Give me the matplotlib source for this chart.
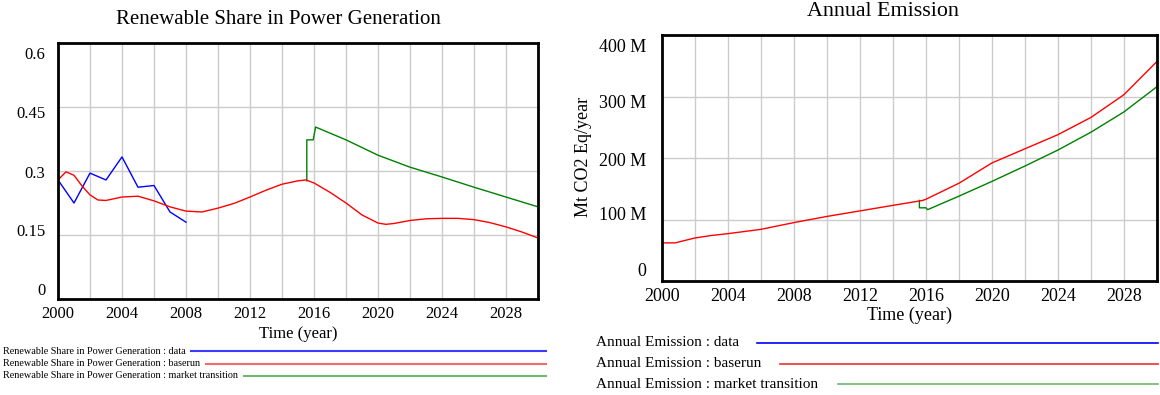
import matplotlib
matplotlib.use("Agg")
import matplotlib.pyplot as plt
from matplotlib.lines import Line2D
from matplotlib.ticker import FuncFormatter
from matplotlib.transforms import ScaledTranslation

plt.rcParams['font.family'] = ['Liberation Serif', 'DejaVu Serif']

# ---------------- data: Renewable Share in Power Generation ----------------
share_data_years = [2000, 2001, 2002, 2003, 2004, 2005, 2006, 2007, 2008]
share_data = [0.279, 0.225, 0.295, 0.279, 0.333, 0.262, 0.266, 0.204, 0.180]

share_base_years = [2000, 2000.5, 2001, 2001.5, 2002, 2002.5, 2003, 2004, 2005, 2006,
                    2007, 2008, 2009, 2010, 2011, 2012, 2013, 2014, 2015, 2015.5,
                    2016, 2017, 2018, 2019, 2020, 2020.5, 2021, 2022, 2023, 2024,
                    2025, 2026, 2027, 2028, 2029, 2030]
share_base = [0.279, 0.298, 0.290, 0.265, 0.244, 0.232, 0.231, 0.239, 0.241, 0.230,
              0.216, 0.206, 0.204, 0.213, 0.224, 0.239, 0.255, 0.269, 0.277, 0.279,
              0.272, 0.250, 0.225, 0.197, 0.178, 0.175, 0.177, 0.184, 0.188, 0.189,
              0.189, 0.186, 0.179, 0.169, 0.157, 0.143]

share_market_years = [2015.55, 2015.55, 2015.95, 2016.1, 2018, 2020, 2022, 2024, 2026, 2028, 2030]
share_market = [0.277, 0.373, 0.373, 0.403, 0.373, 0.337, 0.309, 0.286, 0.262, 0.239, 0.216]

# ---------------- data: Annual Emission (Mt CO2 Eq/year, in millions) ----------------
emis_base_years = [2000, 2000.8, 2002, 2003, 2004, 2006, 2008, 2010, 2012, 2014,
                   2015.8, 2016, 2018, 2020, 2022, 2024, 2026, 2028, 2030]
emis_base = [62, 62, 70, 74, 77, 84, 95, 105, 114, 123,
             131, 133, 159, 192, 215, 238, 266, 303, 357]

emis_market_years = [2015.6, 2015.6, 2016.0, 2016.1, 2018, 2020, 2022, 2024, 2026, 2028, 2030]
emis_market = [131, 119, 119, 116, 138, 162, 187, 213, 242, 275, 316]

share_yticks = [0, 0.15, 0.3, 0.45, 0.6]
share_ytick_labels = ["0", "0.15", "0.3", "0.45", "0.6"]
emis_yticks = [0, 100, 200, 300, 400]
xticks_major = [2000, 2004, 2008, 2012, 2016, 2020, 2024, 2028]

W, H = 1160, 395
fig = plt.figure(figsize=(W / 100, H / 100), dpi=100)


def px_axes(x0, y0, x1, y1):
    return fig.add_axes([x0 / W, 1 - y1 / H, (x1 - x0) / W, (y1 - y0) / H])


def style(ax, label_offsets, ypad, fs):
    ax.set_xlim(2000, 2030)
    ax.set_xticks(range(2000, 2031, 2), minor=True)
    ax.set_xticks(xticks_major)
    ax.grid(True, which='both', axis='x', color='#cccccc', linewidth=1.0)
    ax.grid(True, which='major', axis='y', color='#cccccc', linewidth=1.0)
    ax.set_axisbelow(True)
    ax.tick_params(which='both', length=0, labelsize=fs)
    ax.tick_params(axis='x', pad=5)
    ax.tick_params(axis='y', pad=ypad)
    for sp in ax.spines.values():
        sp.set_linewidth(2.0)
        sp.set_color('black')
    for tick, dy in zip(ax.yaxis.get_major_ticks(), label_offsets):
        tr = tick.label1.get_transform()
        tick.label1.set_transform(tr + ScaledTranslation(0, -dy / 100, fig.dpi_scale_trans))


# ---------------- left chart ----------------
ax1 = px_axes(58, 43, 538, 299)
ax1.plot(share_data_years, share_data, color='#0000ff', lw=1.0)
ax1.plot(share_market_years, share_market, color='#008000', lw=1.0)
ax1.plot(share_base_years, share_base, color='#ff0000', lw=1.0)
ax1.set_ylim(0, 0.6)
ax1.set_yticks(share_yticks)
ax1.set_yticklabels(share_ytick_labels)
style(ax1, [-10, -5, 1, 5, 10], 9, 12)
fig.text(278 / W, 1 - 20 / H, "Renewable Share in Power Generation", fontsize=15,
         ha='center', va='center')
ax1.set_xlabel("Time (year)", fontsize=12, labelpad=1)
ax1.xaxis.set_label_coords(0.5, -0.105)

# ---------------- right chart ----------------
ax2 = px_axes(662, 35, 1157, 281)
ax2.plot(emis_market_years, emis_market, color='#008000', lw=1.0)
ax2.plot(emis_base_years, emis_base, color='#ff0000', lw=1.0)
ax2.set_ylim(0, 400)
ax2.set_yticks(emis_yticks)
ax2.yaxis.set_major_formatter(FuncFormatter(lambda v, p: "0" if v == 0 else f"{int(v)} M"))
style(ax2, [-12, -6, 1, 5, 11], 11, 13)
fig.text(883 / W, 1 - 12 / H, "Annual Emission", fontsize=15.8, ha='center', va='center')
ax2.set_xlabel("Time (year)", fontsize=13)
ax2.xaxis.set_label_coords(0.5, -0.105)
fig.text(584 / W, 1 - 157 / H, "Mt CO2 Eq/year", rotation=90, fontsize=13,
         ha='center', va='center')

# ---------------- legends ----------------
left_legend = [("Renewable Share in Power Generation : data", '#3b3bff', 191),
               ("Renewable Share in Power Generation : baserun", '#f26a6a', 206),
               ("Renewable Share in Power Generation : market transition", '#6cb86c', 244)]
for i, (txt, col, xs) in enumerate(left_legend):
    y = 351 + i * 12.5
    fig.text(3 / W, 1 - y / H, txt, fontsize=7.3, ha='left', va='center')
    fig.add_artist(Line2D([xs / W, 546 / W], [1 - y / H, 1 - y / H], color=col, lw=1.5))

right_legend = [("Annual Emission : data", '#0000ff', 757),
                ("Annual Emission : baserun", '#ee3030', 780),
                ("Annual Emission : market transition", '#6cb86c', 838)]
for i, (txt, col, xs) in enumerate(right_legend):
    y = 343 + i * 20.5
    fig.text(596 / W, 1 - y / H, txt, fontsize=11, ha='left', va='center')
    fig.add_artist(Line2D([xs / W, 1158 / W], [1 - y / H, 1 - y / H], color=col, lw=1.2))

fig.savefig("out.png", dpi=100)
